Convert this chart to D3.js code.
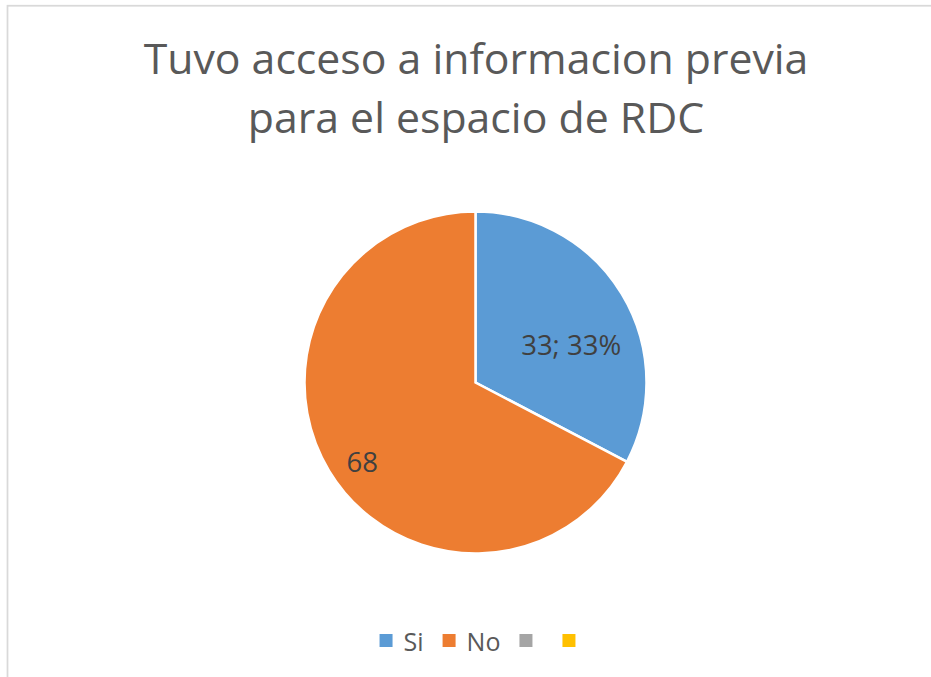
<!DOCTYPE html>
<html>
<head>
<meta charset="utf-8">
<script src="https://cdn.jsdelivr.net/npm/d3@7"></script>
<style>
  body { margin: 0; background: #fff; }
  svg { display: block; }
</style>
</head>
<body>
<svg></svg>
<script>
var w = 931;
var h = 677;

// chart data
var titleLines = ["Tuvo acceso a informacion previa", "para el espacio de RDC"];
var categories = ["Si", "No", "", ""];
var values = [33, 68, 0, 0];
var colors = ["#5B9BD5", "#ED7D31", "#A5A5A5", "#FFC000"];
var labels = ["33; 33%", "68"];

var svg = d3.select("svg")
    .attr("width", w)
    .attr("height", h)
    .style("font-family", "'Open Sans', sans-serif");

// chart area border (only top and left edges are visible in the frame)
svg.append("rect")
    .attr("x", 7.5)
    .attr("y", 5.75)
    .attr("width", w + 20)
    .attr("height", h + 20)
    .attr("fill", "white")
    .attr("stroke", "#D9D9D9")
    .attr("stroke-width", 1.75);

// title, sized so that the first line spans the same width as the original
var title = svg.append("g");
var titleSize = 44;
title.selectAll("text")
    .data(titleLines)
    .join("text")
    .attr("x", 476)
    .attr("y", function(d, i) { return 74 + i * 59; })
    .attr("text-anchor", "middle")
    .attr("fill", "#595959")
    .style("font-size", titleSize + "px")
    .text(function(d) { return d; });
var firstLen = title.select("text").node().getComputedTextLength();
titleSize = titleSize * 665 / firstLen;
title.selectAll("text").style("font-size", titleSize + "px");

// pie
var cx = 475.5, cy = 382.5, r = 171;
var data = categories.map(function(c, i) {
    return { cat: c, value: values[i], color: colors[i] };
});
var pie = d3.pie()
    .sort(null)
    .value(function(d) { return d.value; });
var arcs = pie(data).filter(function(d) { return d.data.value > 0; });
var arc = d3.arc().innerRadius(0).outerRadius(r);

var g = svg.append("g")
    .attr("transform", "translate(" + cx + "," + cy + ")");

g.selectAll("path")
    .data(arcs)
    .join("path")
    .attr("d", arc)
    .attr("fill", function(d) { return d.data.color; })
    .attr("stroke", "white")
    .attr("stroke-width", 2.5)
    .attr("stroke-linejoin", "miter");

// data labels (best-fit style: radius factor and angle shift from mid angle)
var labelPlace = [
    { k: 0.60, shift: 10 * Math.PI / 180 },
    { k: 0.81, shift: -4 * Math.PI / 180 }
];
g.selectAll("text.lbl")
    .data(arcs)
    .join("text")
    .attr("class", "lbl")
    .attr("transform", function(d, i) {
        var a = (d.startAngle + d.endAngle) / 2 + labelPlace[i].shift;
        var rr = r * labelPlace[i].k;
        return "translate(" + (Math.sin(a) * rr) + "," + (-Math.cos(a) * rr) + ")";
    })
    .attr("dy", "0.36em")
    .attr("text-anchor", "middle")
    .attr("fill", "#404040")
    .style("font-size", "27.5px")
    .text(function(d, i) { return labels[i]; });

// legend
var legend = svg.append("g");
var legendSize = 25;
var items = legend.selectAll("g")
    .data(data)
    .join("g");
items.append("rect")
    .attr("width", 13)
    .attr("height", 13)
    .attr("y", -13)
    .attr("fill", function(d) { return d.color; });
items.append("text")
    .attr("x", 24)
    .attr("fill", "#595959")
    .style("font-size", legendSize + "px")
    .text(function(d) { return d.cat; });

var xPos = 0;
var offsets = [];
items.each(function(d) {
    offsets.push(xPos);
    var tw = d3.select(this).select("text").node().getComputedTextLength();
    xPos += 24 + tw + 19;
});
var totalW = xPos - 19 - (data[data.length - 1].cat === "" ? 11 : 0);
var startX = 477.5 - totalW / 2;
items.attr("transform", function(d, i) {
    return "translate(" + (startX + offsets[i]) + ",647)";
});
items.select("text").attr("dy", "0.15em");
</script>
</body>
</html>
